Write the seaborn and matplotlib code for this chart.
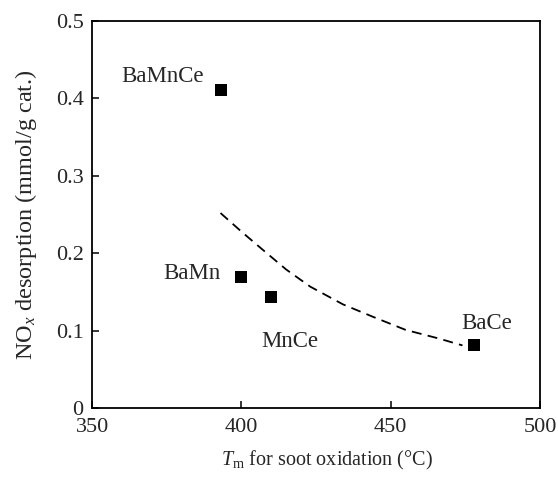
"""NOx desorption vs. soot oxidation temperature for Ba/Mn/Ce catalysts."""

import matplotlib.pyplot as plt
import pandas as pd
import seaborn as sns

plt.switch_backend("Agg")

CATALYSTS = ["BaMnCe", "BaMn", "MnCe", "BaCe"]
TM = [393, 400, 410, 478]
NOX = [0.411, 0.170, 0.144, 0.081]

# dashed trend line
TREND_X = [393, 400, 407, 415, 423, 434, 444, 455, 466, 474]
TREND_Y = [0.252, 0.228, 0.205, 0.179, 0.157, 0.134, 0.118, 0.101, 0.090, 0.081]

X_TICKS = [350, 400, 450, 500]
Y_TICKS = [0, 0.1, 0.2, 0.3, 0.4, 0.5]
Y_TICK_LABELS = ["0", "0.1", "0.2", "0.3", "0.4", "0.5"]

# label offsets in points relative to each marker
LABEL_OFFSETS = {
    "BaMnCe": (-42, 10),
    "BaMn": (-36, 2),
    "MnCe": (13, -32),
    "BaCe": (9, 16),
}

sns.set_theme(style="ticks")
plt.rcParams["font.family"] = ["Liberation Serif", "DejaVu Serif"]
plt.rcParams["mathtext.fontset"] = "custom"
plt.rcParams["mathtext.rm"] = "Liberation Serif"
plt.rcParams["mathtext.it"] = "Liberation Serif:italic"

df = pd.DataFrame({"catalyst": CATALYSTS, "tm": TM, "nox": NOX})
trend = pd.DataFrame({"tm": TREND_X, "nox": TREND_Y})

fig, ax = plt.subplots(figsize=(5.58, 4.79), dpi=100)
fig.subplots_adjust(left=0.165, right=0.968, top=0.956, bottom=0.148)

sns.lineplot(data=trend, x="tm", y="nox", ax=ax, color="black", lw=1.3,
             linestyle=(0, (5.5, 3.5)))
sns.scatterplot(data=df, x="tm", y="nox", ax=ax, marker="s", s=85,
                color="black", edgecolor="black", linewidth=0, zorder=3)

for _, row in df.iterrows():
    ax.annotate(row["catalyst"], (row["tm"], row["nox"]),
                xytext=LABEL_OFFSETS[row["catalyst"]], textcoords="offset points",
                ha="center", va="center", fontsize=16.5)

ax.set_xlim(350, 500)
ax.set_ylim(0, 0.5)
ax.set_xticks(X_TICKS)
ax.set_yticks(Y_TICKS)
ax.set_yticklabels(Y_TICK_LABELS)
ax.tick_params(direction="in", length=5, width=1.3, labelsize=16,
               top=False, right=False)
ax.tick_params(axis="x", pad=7)
ax.tick_params(axis="y", pad=6)
for spine in ax.spines.values():
    spine.set_linewidth(1.3)
    spine.set_color("black")

ax.set_xlabel(r"$T$$_{\rm m}$ for soot oxidation (°C)", fontsize=14.5, labelpad=9)
ax.xaxis.label.set_x(0.525)
ax.set_ylabel(r"NO$_x$ desorption (mmol/g cat.)", fontsize=17.5, labelpad=12)

fig.savefig("out.png", dpi=100)
plt.close(fig)
